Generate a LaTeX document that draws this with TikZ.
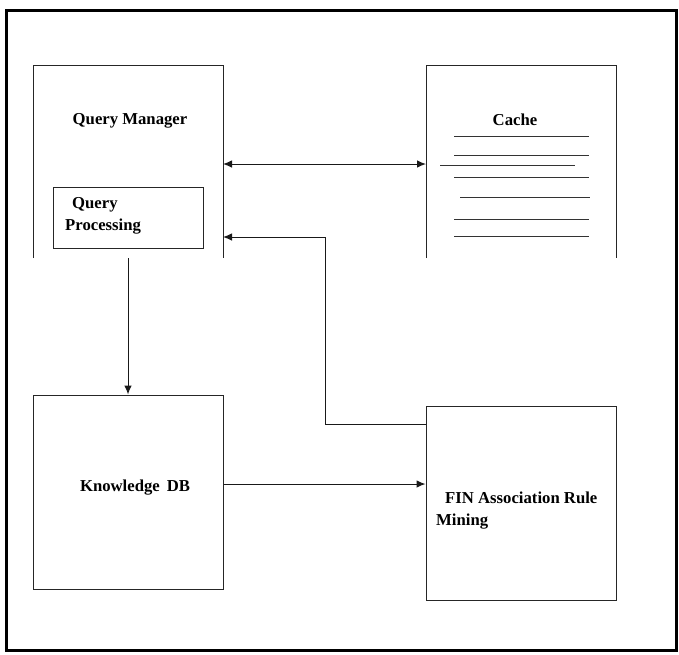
\documentclass[tikz,border=0pt]{standalone}
\usepackage{fontspec}
\setmainfont{Liberation Serif}
\usetikzlibrary{arrows.meta}
\begin{document}
\begin{tikzpicture}[x=1pt,y=-1pt,
  box/.style={draw=none,minimum width=190pt,inner sep=0pt,outer sep=0pt},
  edge/.style={draw=black!85,line width=1pt},
  conn/.style={draw=black!90,line width=1pt,-{Latex[length=9pt,width=7.5pt]}},
  lbl/.style={font=\bfseries\fontsize{16.7}{20}\selectfont,inner sep=0pt},
  cline/.style={draw=black!80,line width=1pt}]
\useasboundingbox (0,0) rectangle (679,654);
\draw[line width=2.6pt] (6.5,10.5) rectangle (676.5,650.5);
% nodes (open-bottom boxes drawn via anchors)
\node[box,minimum height=193pt] (qm) at (128,161.5) {};
\node[box,minimum height=193pt] (cache) at (521,161.5) {};
\node[draw=black!85,line width=1pt,minimum width=150pt,minimum height=61pt,inner sep=0pt] (qp) at (128,217.5) {};
\node[draw=black!85,line width=1pt,minimum width=190pt,minimum height=194pt,inner sep=0pt] (kdb) at (128,492) {};
\node[draw=black!85,line width=1pt,minimum width=190pt,minimum height=194pt,inner sep=0pt] (fin) at (521,503) {};
\draw[edge] (qm.south west) -- (qm.north west) -- (qm.north east) -- (qm.south east);
\draw[edge] (cache.south west) -- (cache.north west) -- (cache.north east) -- (cache.south east);
% labels
\node[lbl,anchor=base] (tqm) at (130,124) {Query Manager};
\node[lbl,anchor=base west] (tq) at (72,208) {Query};
\node[lbl,anchor=base west] (tp) at (65,230) {Processing};
\node[lbl,anchor=base] (tc) at (515,125) {Cache};
\node[lbl,anchor=base] (tk) at (135,491) {Knowledge\, DB};
\node[lbl,anchor=base west] (tf) at (445,503) {FIN Association Rule};
\node[lbl,anchor=base west] (tm) at (436,525) {Mining};
% cache lines
\draw[cline] (454,136) -- (589,136);
\draw[cline] (454,155) -- (589,155);
\draw[cline] (440,165) -- (575,165);
\draw[cline] (454,177) -- (589,177);
\draw[cline] (460,197) -- (590,197);
\draw[cline] (454,219) -- (589,219);
\draw[cline] (454,236) -- (589,236);
% connectors
\coordinate (y1) at (0,164);
\coordinate (y2) at (0,237);
\coordinate (y3) at (0,424);
\coordinate (y4) at (0,484);
\coordinate (xb) at (325,0);
\draw[conn,{Latex[length=9pt,width=7.5pt]}-{Latex[length=9pt,width=7.5pt]}] (qm.east |- y1) -- (cache.west |- y1);
\draw[conn] (kdb.north |- qm.south) -- (kdb.north);
\draw[conn] (fin.west |- y3) -- (xb |- y3) -- (xb |- y2) -- (qm.east |- y2);
\draw[conn] (kdb.east |- y4) -- (fin.west |- y4);
\end{tikzpicture}
\end{document}
